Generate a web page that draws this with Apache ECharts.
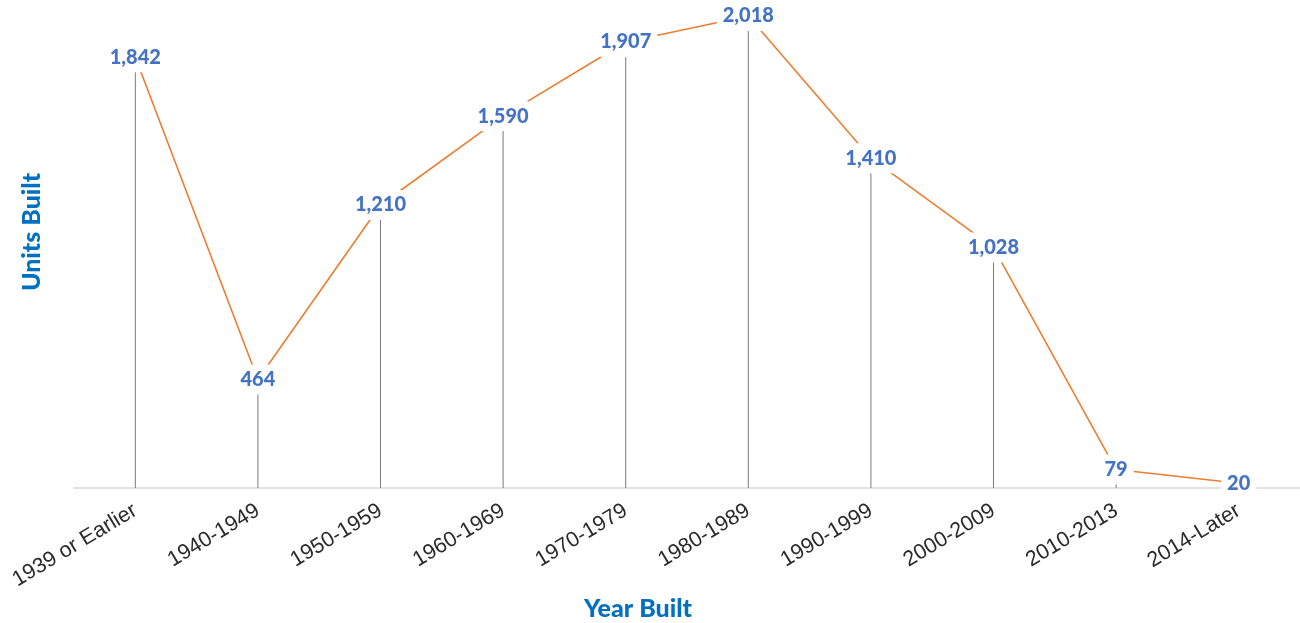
<!DOCTYPE html>
<html><head><meta charset="utf-8">
<script src="https://cdn.jsdelivr.net/npm/echarts@6/dist/echarts.min.js"></script>
<style>html,body{margin:0;padding:0;background:#fff}#c{width:1300px;height:623px}</style>
</head><body><div id="c"></div>
<script>
const categories = ['1939 or Earlier','1940-1949','1950-1959','1960-1969','1970-1979','1980-1989','1990-1999','2000-2009','2010-2013','2014-Later'];
const unitsBuilt = [1842, 464, 1210, 1590, 1907, 2018, 1410, 1028, 79, 20];

const chart = echarts.init(document.getElementById('c'));
chart.setOption({
  animation: false,
  grid: { left: 74, right: 0, top: 16, bottom: 135 },
  xAxis: {
    type: 'category', data: categories, boundaryGap: true,
    axisLine: { lineStyle: { color: '#d9d9d9', width: 1.5 } },
    axisTick: { show: false },
    axisLabel: { rotate: 31, fontSize: 21.5, color: '#2a2a2a', fontFamily: 'Liberation Sans, Arial', margin: 21 }
  },
  yAxis: { type: 'value', min: 0, max: 2018, show: false, splitLine: { show: false } },
  series: [
    { type: 'bar', data: unitsBuilt, barWidth: 1, itemStyle: { color: '#7a7a7a' }, z: 1, silent: true },
    { type: 'line', data: unitsBuilt, z: 3, symbol: 'none',
      lineStyle: { color: '#ED7D31', width: 1.6 } },
    { type: 'scatter', data: unitsBuilt, z: 5, symbolSize: 1,
      itemStyle: { color: 'rgba(255,255,255,0)', opacity: 1 },
      label: {
        show: true, position: 'inside',
        formatter: p => p.value.toLocaleString('en-US'),
        color: '#4472C4', fontSize: 20, fontWeight: 900, fontFamily: 'Lato',
        backgroundColor: '#fff', padding: [5, 6], borderRadius: 8
      }
    }
  ],
  graphic: [
    { type: 'text', x: 638, y: 609, style: { text: 'Year Built', fill: '#0070C0', font: '900 25px Lato', textAlign: 'center', textVerticalAlign: 'middle' } },
    { type: 'text', x: 32, y: 232, rotation: Math.PI / 2, style: { text: 'Units Built', fill: '#0070C0', font: '900 25px Lato', textAlign: 'center', textVerticalAlign: 'middle' } }
  ]
});
</script></body></html>
